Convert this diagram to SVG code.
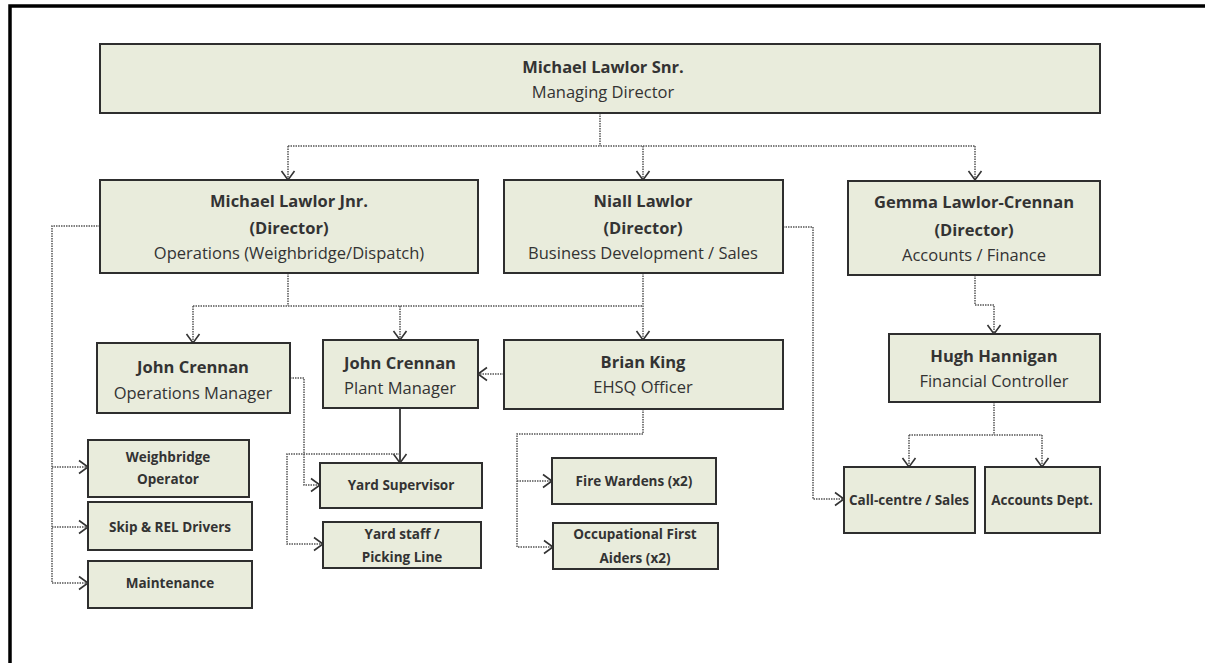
<svg xmlns="http://www.w3.org/2000/svg" width="1205" height="663" viewBox="0 0 1205 663">
<style>
.box{fill:#e9ecdc;stroke:#2e2e2e;stroke-width:2}
text{font-family:"Open Sans","Liberation Sans",sans-serif;fill:#333;text-anchor:middle}
.n{font-size:16.5px;font-weight:bold}
.r{font-size:16.5px}
.s{font-size:13.5px;font-weight:bold}
.d{fill:none;stroke:#555;stroke-width:1.5;stroke-dasharray:1.5 1}
.sol{fill:none;stroke:#333;stroke-width:1.8}
.a{marker-end:url(#arr)}
</style>
<defs>
<marker id="arr" markerUnits="userSpaceOnUse" viewBox="0 0 12 16" refX="10" refY="8" markerWidth="12" markerHeight="16" orient="auto">
<path d="M1,1.5 L10,8 L1,14.5" fill="none" stroke="#333" stroke-width="1.6"/>
</marker>
</defs>
<rect width="1205" height="663" fill="#fff"/>
<path d="M10,663 V6 H1205" fill="none" stroke="#000" stroke-width="3.5"/>

<g id="connectors">
<path class="d" d="M600,113 V146 M288,146 H975"/>
<path class="d a" d="M288,146 V180"/>
<path class="d a" d="M643,146 V180"/>
<path class="d a" d="M975,146 V180"/>
<path class="d" d="M288,273 V306 M193,306 H643"/>
<path class="d a" d="M193,306 V343"/>
<path class="d a" d="M400,306 V340"/>
<path class="d a" d="M643,273 V340"/>
<path class="d" d="M100,226 H52 V583"/>
<path class="d a" d="M52,467 H88"/>
<path class="d a" d="M52,527 H88"/>
<path class="d a" d="M52,583 H88"/>
<path class="d a" d="M290,378 H304 V485 H320"/>
<path class="d a" d="M504,374 H478"/>
<path class="sol a" d="M400,408 V463"/>
<path class="d a" d="M400,454 H287 V544 H323"/>
<path class="d a" d="M643,409 V434 H517 V547 H553"/>
<path class="d a" d="M517,481 H552"/>
<path class="d a" d="M783,227 H813 V499 H844"/>
<path class="d a" d="M975,275 V305 H994 V334"/>
<path class="d" d="M994,402 V435 M909,435 H1042"/>
<path class="d a" d="M909,435 V467"/>
<path class="d a" d="M1042,435 V467"/>
</g>

<g id="md"><rect class="box" x="100" y="44" width="1000" height="69"/>
<text class="n" x="603" y="73">Michael Lawlor Snr.</text>
<text class="r" x="603" y="98">Managing Director</text></g>

<g id="mljnr"><rect class="box" x="100" y="180" width="378" height="93"/>
<text class="n" x="289" y="207">Michael Lawlor Jnr.</text>
<text class="n" x="289" y="234">(Director)</text>
<text class="r" x="289" y="259">Operations (Weighbridge/Dispatch)</text></g>

<g id="niall"><rect class="box" x="504" y="180" width="279" height="93"/>
<text class="n" x="643" y="207">Niall Lawlor</text>
<text class="n" x="643" y="234">(Director)</text>
<text class="r" x="643" y="259">Business Development / Sales</text></g>

<g id="gemma"><rect class="box" x="848" y="181" width="252" height="94"/>
<text class="n" x="974" y="208">Gemma Lawlor-Crennan</text>
<text class="n" x="974" y="236">(Director)</text>
<text class="r" x="974" y="261">Accounts / Finance</text></g>

<g id="opsmgr"><rect class="box" x="97" y="343" width="193" height="70"/>
<text class="n" x="193" y="373">John Crennan</text>
<text class="r" x="193" y="399">Operations Manager</text></g>

<g id="plantmgr"><rect class="box" x="323" y="340" width="155" height="68"/>
<text class="n" x="400" y="369">John Crennan</text>
<text class="r" x="400" y="394">Plant Manager</text></g>

<g id="brian"><rect class="box" x="504" y="340" width="279" height="69"/>
<text class="n" x="643" y="368">Brian King</text>
<text class="r" x="643" y="393">EHSQ Officer</text></g>

<g id="hugh"><rect class="box" x="889" y="334" width="211" height="68"/>
<text class="n" x="994" y="362">Hugh Hannigan</text>
<text class="r" x="994" y="387">Financial Controller</text></g>

<g id="weigh"><rect class="box" x="88" y="440" width="161" height="57"/>
<text class="s" x="168" y="462">Weighbridge</text>
<text class="s" x="168" y="484">Operator</text></g>

<g id="skip"><rect class="box" x="88" y="502" width="164" height="48"/>
<text class="s" x="170" y="532">Skip &amp; REL Drivers</text></g>

<g id="maint"><rect class="box" x="88" y="561" width="164" height="47"/>
<text class="s" x="170" y="588">Maintenance</text></g>

<g id="yardsup"><rect class="box" x="320" y="463" width="162" height="45"/>
<text class="s" x="401" y="490">Yard Supervisor</text></g>

<g id="yardstaff"><rect class="box" x="323" y="522" width="158" height="46"/>
<text class="s" x="402" y="539">Yard staff /</text>
<text class="s" x="402" y="562">Picking Line</text></g>

<g id="fire"><rect class="box" x="552" y="458" width="164" height="46"/>
<text class="s" x="634" y="486">Fire Wardens (x2)</text></g>

<g id="firstaid"><rect class="box" x="553" y="523" width="165" height="46"/>
<text class="s" x="635" y="539">Occupational First</text>
<text class="s" x="635" y="563">Aiders (x2)</text></g>

<g id="callcentre"><rect class="box" x="844" y="467" width="131" height="66"/>
<text class="s" x="909" y="505">Call-centre / Sales</text></g>

<g id="accounts"><rect class="box" x="985" y="467" width="115" height="66"/>
<text class="s" x="1042" y="505">Accounts Dept.</text></g>
</svg>
